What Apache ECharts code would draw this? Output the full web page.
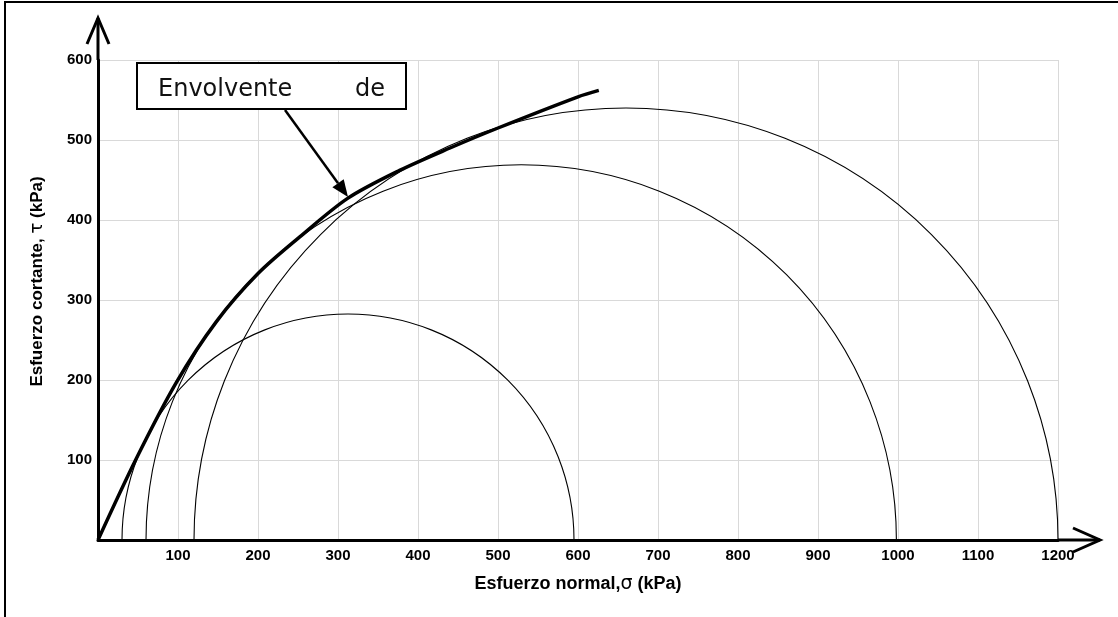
<!DOCTYPE html>
<html>
<head>
<meta charset="utf-8">
<script src="https://cdn.jsdelivr.net/npm/echarts@6/dist/echarts.min.js"></script>
<style>
  html, body { margin: 0; padding: 0; background: #fff; }
  #mohr { width: 1118px; height: 617px; }
</style>
</head>
<body>
<div id="mohr"></div>
<script>
// envolvente de falla (kPa)
var envSigma = [0, 47, 98, 148, 200, 250, 312, 377, 440, 500, 600, 626];
var envTau = [0, 100, 197, 273, 333, 377, 427, 462, 490, 515, 554, 562];

// circulos de Mohr: centro y radio (kPa)
var circleCenter = [312.5, 529, 660];
var circleRadius = [282.5, 469, 540];

var xTicks = [100, 200, 300, 400, 500, 600, 700, 800, 900, 1000, 1100, 1200];
var yTicks = [100, 200, 300, 400, 500, 600];

var envelope = envSigma.map(function (s, i) { return [s, envTau[i]]; });
var circles = circleCenter.map(function (c, i) { return [c, circleRadius[i]]; });

var labelStyle = {
  fontFamily: 'Liberation Sans',
  fontWeight: 'bold',
  fontSize: 15,
  color: '#000'
};

var myChart = echarts.init(document.getElementById('mohr'));

var option = {
  backgroundColor: '#fff',
  animation: false,
  grid: { left: 98, right: 60, top: 60, bottom: 77, outerBoundsMode: 'none' },
  xAxis: {
    type: 'value',
    min: 0,
    max: 1200,
    interval: 100,
    name: 'Esfuerzo normal,{s|σ} (kPa)',
    nameLocation: 'middle',
    nameGap: 35,
    nameTextStyle: {
      fontFamily: 'Liberation Sans', fontWeight: 'bold', fontSize: 18, color: '#000',
      rich: { s: { fontFamily: 'DejaVu Sans', fontWeight: 'normal', fontSize: 19, color: '#000' } }
    },
    axisLine: { lineStyle: { color: '#000', width: 3 } },
    axisTick: { show: false },
    axisLabel: Object.assign({
      margin: 8,
      formatter: function (v) { return xTicks.indexOf(v) >= 0 ? String(v) : ''; }
    }, labelStyle),
    splitLine: { lineStyle: { color: '#d9d9d9', width: 1 } }
  },
  yAxis: {
    type: 'value',
    min: 0,
    max: 600,
    interval: 100,
    name: 'Esfuerzo cortante, {s|τ} (kPa)',
    nameLocation: 'middle',
    nameGap: 52,
    nameTextStyle: {
      fontFamily: 'Liberation Sans', fontWeight: 'bold', fontSize: 17, color: '#000',
      padding: [0, 0, 0, 37],
      rich: { s: { fontFamily: 'DejaVu Sans', fontWeight: 'normal', fontSize: 18, color: '#000' } }
    },
    axisLine: { lineStyle: { color: '#000', width: 3 } },
    axisTick: { show: false },
    axisLabel: Object.assign({
      margin: 6,
      formatter: function (v) { return yTicks.indexOf(v) >= 0 ? String(v) : ''; }
    }, labelStyle),
    splitLine: { lineStyle: { color: '#d9d9d9', width: 1 } }
  },
  series: [
    {
      name: 'Circulos de Mohr',
      type: 'custom',
      data: circles,
      encode: { x: 0, y: 1 },
      clip: false,
      silent: true,
      z: 2,
      renderItem: function (params, api) {
        var c = api.coord([api.value(0), 0]);
        var r = api.size([api.value(1), 0])[0];
        return {
          type: 'arc',
          shape: { cx: c[0], cy: c[1], r: r, startAngle: Math.PI, endAngle: Math.PI * 2, clockwise: true },
          style: { stroke: '#000', fill: null, lineWidth: 1.1 }
        };
      }
    },
    {
      name: 'Envolvente de falla',
      type: 'line',
      data: envelope,
      smooth: 0.3,
      showSymbol: false,
      silent: true,
      lineStyle: { color: '#000', width: 3.5 },
      z: 3
    }
  ]
};
myChart.setOption(option);

// flechas de los ejes, marco y anotacion
var pO = myChart.convertToPixel({ gridIndex: 0 }, [0, 0]);
var pX = myChart.convertToPixel({ gridIndex: 0 }, [1200, 0]);
var pY = myChart.convertToPixel({ gridIndex: 0 }, [0, 600]);
var xTip = [pX[0] + 42, pO[1]];
var yTip = [pO[0], pY[1] - 42];

// punta de la flecha de la anotacion
var tail = [285, 110], tip = [348, 197];
var dx = tip[0] - tail[0], dy = tip[1] - tail[1];
var len = Math.sqrt(dx * dx + dy * dy);
var ux = dx / len, uy = dy / len;
var base = [tip[0] - 17 * ux, tip[1] - 17 * uy];

myChart.setOption({
  graphic: [
    {
      type: 'rect', z: 100, silent: true,
      shape: { x: 5, y: 2, width: 1300, height: 800 },
      style: { fill: null, stroke: '#000', lineWidth: 2 }
    },
    {
      type: 'polyline', z: 100, silent: true,
      shape: { points: [[pX[0], pX[1]], xTip] },
      style: { stroke: '#000', lineWidth: 3, fill: null }
    },
    {
      type: 'polyline', z: 100, silent: true,
      shape: { points: [[xTip[0] - 27, xTip[1] - 12], xTip, [xTip[0] - 27, xTip[1] + 12]] },
      style: { stroke: '#000', lineWidth: 3, fill: null }
    },
    {
      type: 'polyline', z: 100, silent: true,
      shape: { points: [[pY[0], pY[1]], yTip] },
      style: { stroke: '#000', lineWidth: 3, fill: null }
    },
    {
      type: 'polyline', z: 100, silent: true,
      shape: { points: [[yTip[0] - 11, yTip[1] + 26], yTip, [yTip[0] + 11, yTip[1] + 26]] },
      style: { stroke: '#000', lineWidth: 3, fill: null }
    },
    {
      type: 'rect', z: 100, silent: true,
      shape: { x: 137, y: 63, width: 269, height: 46 },
      style: { fill: '#fff', stroke: '#000', lineWidth: 2 }
    },
    {
      type: 'text', z: 101, silent: true,
      style: { text: 'Envolvente', x: 158, y: 90, font: '24px "DejaVu Sans"', fill: '#111', verticalAlign: 'middle' }
    },
    {
      type: 'text', z: 101, silent: true,
      style: { text: 'de', x: 355, y: 90, font: '24px "DejaVu Sans"', fill: '#111', verticalAlign: 'middle' }
    },
    {
      type: 'polyline', z: 100, silent: true,
      shape: { points: [tail, base] },
      style: { stroke: '#000', lineWidth: 2.5, fill: null }
    },
    {
      type: 'polygon', z: 100, silent: true,
      shape: { points: [tip, [base[0] - 7 * uy, base[1] + 7 * ux], [base[0] + 7 * uy, base[1] - 7 * ux]] },
      style: { fill: '#000' }
    }
  ]
});
</script>
</body>
</html>
